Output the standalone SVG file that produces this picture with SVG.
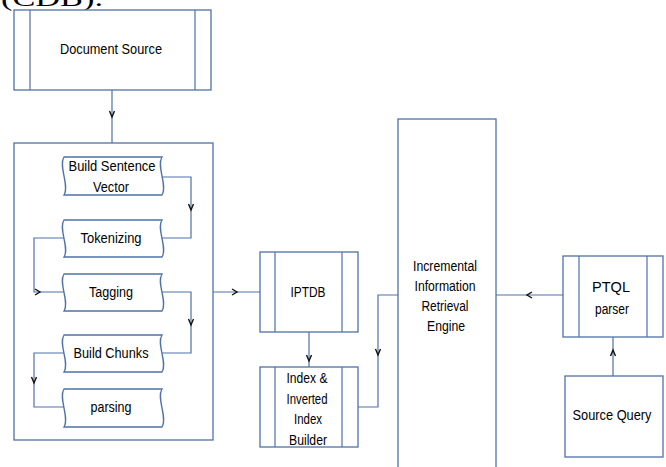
<svg xmlns="http://www.w3.org/2000/svg" width="666" height="467" viewBox="0 0 666 467">
<style>
.b{fill:#fff;stroke:#4f72a8;stroke-width:1.3}
.l{fill:none;stroke:#4f72a8;stroke-width:1.2}
.c{fill:none;stroke:#4f72a8;stroke-width:1.2}
.h{fill:none;stroke:#111;stroke-width:1.4}
text{font-family:"Liberation Sans",Arial,sans-serif;font-size:14px;fill:#000;text-anchor:middle}
</style>
<rect width="666" height="467" fill="#fff"/>
<text x="52" y="6" style="font-family:'Liberation Serif',serif;font-size:24px" textLength="102" lengthAdjust="spacingAndGlyphs">(CDB).</text>
<g id="document-source">
<rect class="b" x="14" y="10" width="197" height="80"/>
<path class="l" d="M30 10V90M195 10V90"/>
<text x="111" y="54" textLength="102" lengthAdjust="spacingAndGlyphs">Document Source</text>
</g>
<g id="preprocessing">
<rect class="b" x="14" y="143" width="199" height="297"/>
</g>
<g id="build-sentence-vector">
<path class="b" d="M64 157H162C156 166 168 186 162 195H64C70 186 58 166 64 157Z"/>
<text x="112" y="171" textLength="87" lengthAdjust="spacingAndGlyphs">Build Sentence</text>
<text x="111" y="192" textLength="36" lengthAdjust="spacingAndGlyphs">Vector</text>
</g>
<g id="tokenizing">
<path class="b" d="M64 220H162C156 229 168 248 162 257H64C70 248 58 229 64 220Z"/>
<text x="111" y="243" textLength="61" lengthAdjust="spacingAndGlyphs">Tokenizing</text>
</g>
<g id="tagging">
<path class="b" d="M64 274H162C156 283 168 302 162 311H64C70 302 58 283 64 274Z"/>
<text x="111" y="297" textLength="44" lengthAdjust="spacingAndGlyphs">Tagging</text>
</g>
<g id="build-chunks">
<path class="b" d="M64 335H162C156 344 168 363 162 372H64C70 363 58 344 64 335Z"/>
<text x="111" y="358" textLength="75" lengthAdjust="spacingAndGlyphs">Build Chunks</text>
</g>
<g id="parsing">
<path class="b" d="M64 389H162C156 398 168 418 162 427H64C70 418 58 398 64 389Z"/>
<text x="111" y="412" textLength="41" lengthAdjust="spacingAndGlyphs">parsing</text>
</g>
<g id="iptdb">
<rect class="b" x="260" y="252" width="98" height="80"/>
<path class="l" d="M275 252V332M342 252V332"/>
<text x="308" y="297" textLength="35" lengthAdjust="spacingAndGlyphs">IPTDB</text>
</g>
<g id="index-builder">
<rect class="b" x="260" y="367" width="98" height="80"/>
<path class="l" d="M275 367V447M342 367V447"/>
<text x="307" y="383" textLength="41" lengthAdjust="spacingAndGlyphs">Index &amp;</text>
<text x="307" y="404" textLength="41" lengthAdjust="spacingAndGlyphs">Inverted</text>
<text x="308" y="424" textLength="28" lengthAdjust="spacingAndGlyphs">Index</text>
<text x="308" y="445" textLength="38" lengthAdjust="spacingAndGlyphs">Builder</text>
</g>
<g id="engine">
<rect class="b" x="398" y="119" width="98" height="360"/>
<text x="445" y="271" textLength="64" lengthAdjust="spacingAndGlyphs">Incremental</text>
<text x="445" y="291" textLength="61" lengthAdjust="spacingAndGlyphs">Information</text>
<text x="445" y="311" textLength="47" lengthAdjust="spacingAndGlyphs">Retrieval</text>
<text x="446" y="331" textLength="38" lengthAdjust="spacingAndGlyphs">Engine</text>
</g>
<g id="ptql-parser">
<rect class="b" x="563" y="256" width="100" height="81"/>
<path class="l" d="M579 256V337M647 256V337"/>
<text x="611" y="292" textLength="38" lengthAdjust="spacingAndGlyphs">PTQL</text>
<text x="612" y="314" textLength="34" lengthAdjust="spacingAndGlyphs">parser</text>
</g>
<g id="source-query">
<rect class="b" x="565" y="376" width="98" height="81"/>
<text x="612" y="420" textLength="79" lengthAdjust="spacingAndGlyphs">Source Query</text>
</g>
<g id="connectors">
<path class="c" d="M112 90V143"/><path class="h" d="M109.5 111l2.5 6 2.5-6"/>
<path class="c" d="M162 177H191V238H162"/><path class="h" d="M188.5 204l2.5 6 2.5-6"/>
<path class="c" d="M64 238H34V292H64"/><path class="h" d="M35 289l5 3-5 3"/>
<path class="c" d="M162 292H191V353H162"/><path class="h" d="M188.5 319l2.5 6 2.5-6"/>
<path class="c" d="M64 353H34V407H64"/><path class="h" d="M31.5 377l2.5 6 2.5-6"/>
<path class="c" d="M213 292H260"/><path class="h" d="M232 289l5 3-5 3"/>
<path class="c" d="M309 332V367"/><path class="h" d="M306.5 355l2.5 6 2.5-6"/>
<path class="c" d="M358 407H378V295H398"/><path class="h" d="M375.5 349l2.5 6 2.5-6"/>
<path class="c" d="M563 295H496"/><path class="h" d="M532 292l-5 3 5 3"/>
<path class="c" d="M613 376V337"/><path class="h" d="M610.5 356l2.5-6 2.5 6"/>
</g>
</svg>
